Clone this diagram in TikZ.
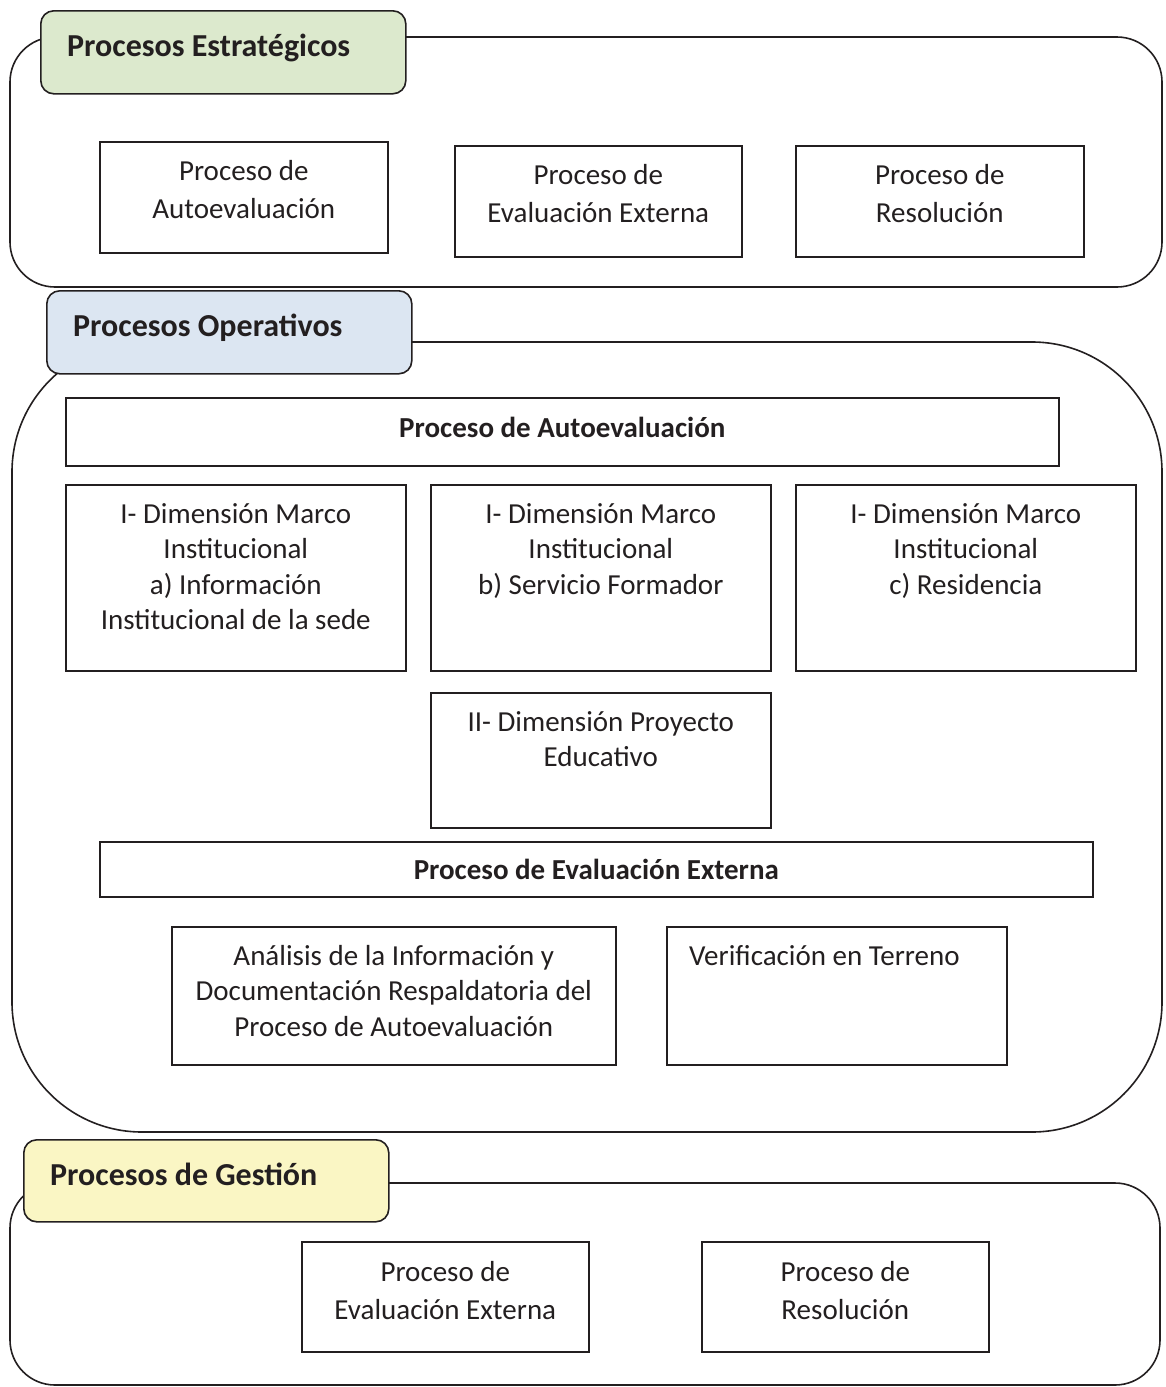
\documentclass[tikz,border=0pt]{standalone}
\usepackage{fontspec}
\setmainfont{Carlito}
\usetikzlibrary{positioning}

\definecolor{inkgray}{RGB}{35,31,32}
\definecolor{tabgreen}{RGB}{220,233,205}
\definecolor{tabblue}{RGB}{220,230,242}
\definecolor{tabyellow}{RGB}{250,246,196}

\tikzset{
	pbox/.style={rectangle, draw=inkgray, line width=1.6pt, anchor=north west, inner sep=0pt},
	ptext/.style={align=center, text=inkgray, inner sep=0pt, anchor=north, font=\fontsize{29}{38}\selectfont},
	optext/.style={ptext, font=\fontsize{29}{35.5}\selectfont},
	boldtext/.style={font=\fontsize{29}{34}\selectfont\bfseries, text=inkgray},
	tabbox/.style={rectangle, rounded corners=13pt, draw=inkgray, line width=1.6pt, anchor=north west},
	tabtext/.style={anchor=base west, inner sep=0pt, text=inkgray, font=\fontsize{32}{38}\selectfont\bfseries},
	frame/.style={draw=inkgray, line width=1.6pt}
}

\begin{document}
\begin{tikzpicture}[x=1pt, y=-1pt]
		\useasboundingbox (0,0) rectangle (1165,1387);
		
		% the three large frames
		\draw [frame, rounded corners=45pt] (10,37) rectangle (1162,287);
		\draw [frame, rounded corners=130pt] (12,342) rectangle (1162,1132);
		\draw [frame, rounded corners=45pt] (10,1183) rectangle (1160,1385);
		
		% tabs
		\node (tabest) [tabbox, fill=tabgreen, minimum width=365pt, minimum height=83pt] at (40,10) {};
		\node (titest) [tabtext] at (67,56) {Procesos Estratégicos};
		
		\node (tabop) [tabbox, fill=tabblue, minimum width=365pt, minimum height=83pt] at (46,290) {};
		\node (titop) [tabtext] at (73,336) {Procesos Operativos};
		
		\node (tabges) [tabbox, fill=tabyellow, minimum width=365pt, minimum height=82pt] at (23,1139) {};
		\node (titges) [tabtext] at (50,1185) {Procesos de Gestión};
		
		% estrategicos
		\node (estauto) [pbox, minimum width=288pt, minimum height=111pt] at (99,141) {};
		\node [ptext, below=19pt of estauto.north] {Proceso de\\Autoevaluación};
		
		\node (estext) [pbox, minimum width=287pt, minimum height=111pt] at (454,145) {};
		\node [ptext, below=19pt of estext.north] {Proceso de\\Evaluación Externa};
		
		\node (estres) [pbox, minimum width=288pt, minimum height=111pt] at (795,145) {};
		\node [ptext, below=19pt of estres.north] {Proceso de\\Resolución};
		
		% operativos
		\node (opauto) [pbox, minimum width=993pt, minimum height=68pt] at (65,397) {};
		\node [boldtext, above=4pt of opauto.center, anchor=center] {Proceso de Autoevaluación};
		
		\node (dima) [pbox, minimum width=340pt, minimum height=186pt] at (65,484) {};
		\node [optext, below=19pt of dima.north] {I- Dimensión Marco\\Institucional\\a) Información\\Institucional de la sede};
		
		\node (dimb) [pbox, minimum width=340pt, minimum height=186pt] at (430,484) {};
		\node [optext, below=19pt of dimb.north] {I- Dimensión Marco\\Institucional\\b) Servicio Formador};
		
		\node (dimc) [pbox, minimum width=340pt, minimum height=186pt] at (795,484) {};
		\node [optext, below=19pt of dimc.north] {I- Dimensión Marco\\Institucional\\c) Residencia};
		
		\node (dimii) [pbox, minimum width=340pt, minimum height=135pt] at (430,692) {};
		\node [optext, below=19pt of dimii.north] {II- Dimensión Proyecto\\Educativo};
		
		\node (opext) [pbox, minimum width=993pt, minimum height=55pt] at (99,841) {};
		\node [boldtext] at (opext.center) {Proceso de Evaluación Externa};
		
		\node (analisis) [pbox, minimum width=444pt, minimum height=138pt] at (171,926) {};
		\node [optext, below=19pt of analisis.north] {Análisis de la Información y\\Documentación Respaldatoria del\\Proceso de Autoevaluación};
		
		\node (verif) [pbox, minimum width=340pt, minimum height=138pt] at (666,926) {};
		\node [optext, anchor=north west, below right=19pt and 23pt of verif.north west] {Verificación en Terreno};
		
		% gestion
		\node (gesext) [pbox, minimum width=287pt, minimum height=110pt] at (301,1241) {};
		\node [ptext, below=20pt of gesext.north] {Proceso de\\Evaluación Externa};
		
		\node (gesres) [pbox, minimum width=287pt, minimum height=110pt] at (701,1241) {};
		\node [ptext, below=20pt of gesres.north] {Proceso de\\Resolución};
		
		\end{tikzpicture}
\end{document}
